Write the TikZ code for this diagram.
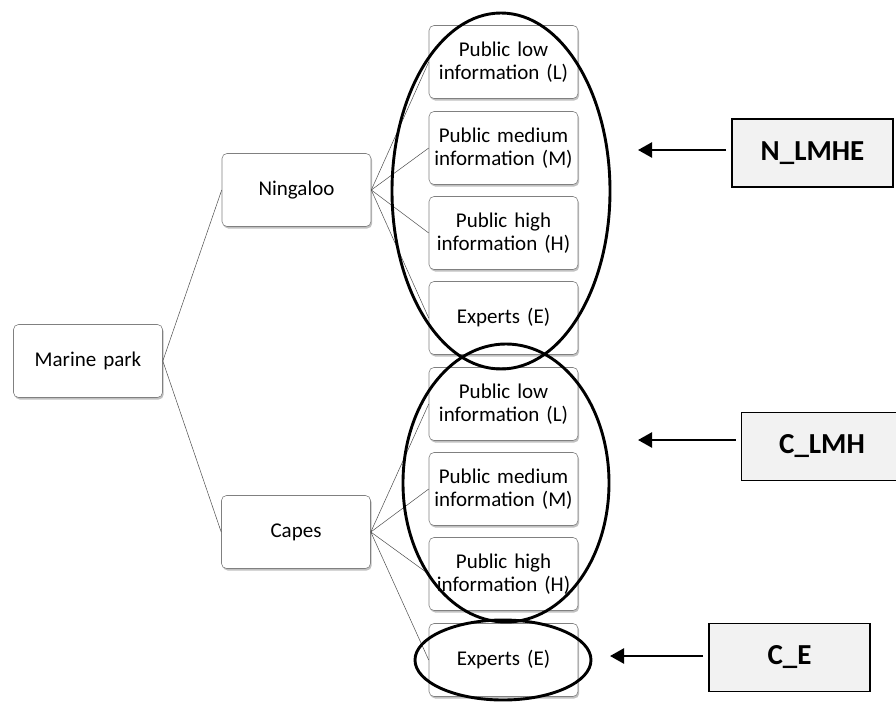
\documentclass[tikz,border=0pt]{standalone}
\usepackage{fontspec}
\setmainfont{Carlito}
\usetikzlibrary{shapes.geometric,shadows,arrows.meta}

\begin{document}
\begin{tikzpicture}[x=1pt,y=-1pt,
    treebox/.style={draw=black!50,fill=white,rounded corners=5pt,line width=0.6pt,
        minimum width=\boxwidth pt,minimum height=\boxheight pt,inner sep=0pt,
        align=center,text width=\boxwidth pt-4pt,font=\treefontsize,
        drop shadow={shadow xshift=1.2pt,shadow yshift=-2pt,opacity=0.35,fill=black!70}},
    labelbox/.style={draw=black,fill=black!5,line width=1.8pt,minimum width=161pt,
        minimum height=68pt,inner sep=0pt,font=\labelfontsize},
    ring/.style={draw=black,ellipse,line width=2.9pt,inner sep=0pt},
    link/.style={draw=black!70,line width=0.5pt},
    pointer/.style={line width=2.4pt,-{Triangle[length=14pt,width=15pt]},shorten <=5pt}]
    \pgfmathsetmacro{\boxwidth}{149}
    \pgfmathsetmacro{\boxheight}{73}
    \pgfmathsetmacro{\leafx}{503.5}
    \providecommand{\treefontsize}{\fontsize{21}{23}\selectfont}
    \providecommand{\labelfontsize}{\fontsize{29}{32}\selectfont\bfseries}
    \useasboundingbox (0,0) rectangle (896,701);
    \node[treebox] (park) at (88,361) {Marine park};
    \node[treebox] (ning) at (296.5,190) {Ningaloo};
    \node[treebox] (capes) at (296,532) {Capes};
    % Ningaloo groups
    \node[treebox] (nL) at (\leafx,62) {Public low\\information (L)};
    \node[treebox] (nM) at (\leafx,148) {Public medium\\information (M)};
    \node[treebox] (nH) at (\leafx,233) {Public high\\information (H)};
    \node[treebox] (nE) at (\leafx,318) {Experts (E)};
    % Capes groups
    \node[treebox] (cL) at (\leafx,404) {Public low\\information (L)};
    \node[treebox] (cM) at (\leafx,489) {Public medium\\information (M)};
    \node[treebox] (cH) at (\leafx,574) {Public high\\information (H)};
    \node[treebox] (cE) at (\leafx,660) {Experts (E)};
    \draw[link] (park.east) -- (ning.west);
    \draw[link] (park.east) -- (capes.west);
    \draw[link] (ning.east) -- (nL.west);
    \draw[link] (ning.east) -- (nM.west);
    \draw[link] (ning.east) -- (nH.west);
    \draw[link] (ning.east) -- (nE.west);
    \draw[link] (capes.east) -- (cL.west);
    \draw[link] (capes.east) -- (cM.west);
    \draw[link] (capes.east) -- (cH.west);
    \draw[link] (capes.east) -- (cE.west);
    \node[ring,minimum width=218pt,minimum height=356pt] (nring) at (501,191) {};
    \node[ring,minimum width=206pt,minimum height=278pt] (lmhring) at (506,483) {};
    \node[ring,minimum width=176pt,minimum height=80pt] (ering) at (503,660) {};
    \node[labelbox] (nlab) at (812.5,153) {N\_LMHE};
    \node[labelbox] (lmhlab) at (822,446.5) {C\_LMH};
    \node[labelbox] (elab) at (789.5,657.5) {C\_E};
    \coordinate (ntip) at (638,150);
    \coordinate (lmhtip) at (638,440);
    \coordinate (etip) at (610,656);
    \draw[pointer] (nlab.west |- ntip) -- (ntip);
    \draw[pointer] (lmhlab.west |- lmhtip) -- (lmhtip);
    \draw[pointer] (elab.west |- etip) -- (etip);
\end{tikzpicture}
\end{document}
